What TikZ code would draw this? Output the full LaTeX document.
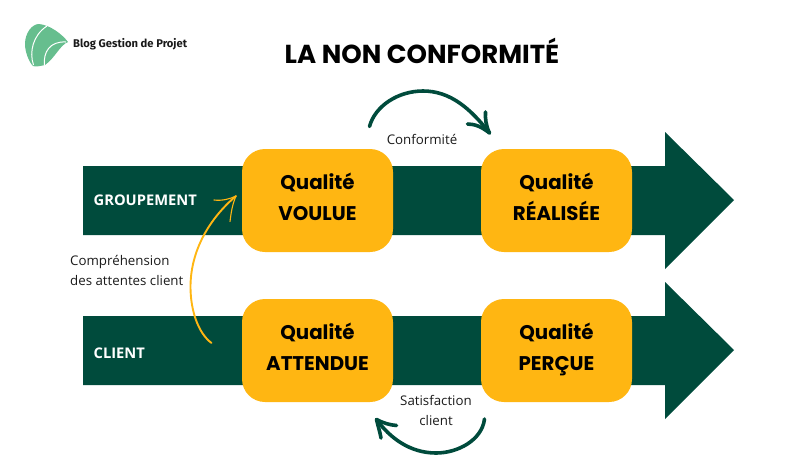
\documentclass[tikz,border=0pt]{standalone}
\usepackage{fontspec}
\setmainfont{Open Sans}
\newfontfamily\pop{Poppins}
\newfontfamily\logofont{Fira Sans}
\usetikzlibrary{calc}
\definecolor{dgreen}{HTML}{004B3C}
\definecolor{amber}{HTML}{FFB612}
\definecolor{lgreen}{HTML}{66BE8E}
\definecolor{ink}{HTML}{1A1A1A}
\newcommand{\qlines}[1]{Qualité\\#1\vphantom{Ç}}
\tikzset{
 x=1pt,y=-1pt,
 qbox/.style={fill=amber,draw=none,rounded corners=23pt,minimum width=151pt,minimum height=103pt,inner sep=0pt,anchor=center},
 band/.style={fill=dgreen,draw=none},
 qtext/.style={font=\pop\bfseries\fontsize{19.8}{31}\selectfont,text=black,align=center,inner sep=0pt},
 small/.style={font=\fontsize{13.3}{20}\selectfont,text=ink,align=center,inner sep=0pt},
 lab/.style={font=\bfseries\fontsize{14.7}{17}\selectfont,text=white,anchor=west,inner sep=0pt},
 swoop/.style={draw=dgreen,line width=3.6pt,line cap=round,line join=round},
 thinarrow/.style={draw=amber,line width=1.9pt,line cap=round,line join=round},
}
\begin{document}
\begin{tikzpicture}
\useasboundingbox (0,0) rectangle (811,456);
% bands
\fill[band] (83,166)--(665,166)--(665,132)--(734,200)--(665,269)--(665,235)--(83,235)--cycle;
\fill[band] (83,316)--(665,316)--(665,282)--(734,350)--(665,419)--(665,385)--(83,385)--cycle;
% boxes
\node[qbox] (qv) at (317.5,200.5) {};
\node[qbox] (qr) at (556.5,200.5) {};
\node[qbox] (qa) at (317.5,350.5) {};
\node[qbox] (qp) at (556.5,350.5) {};
\node[qtext] (tv) at ($(qv)+(0,-1)$) {\qlines{VOULUE}};
\node[qtext] (tr) at ($(qr)+(0,-1)$) {\qlines{RÉALISÉE}};
\node[qtext] (ta) at ($(qa)+(0,-1)$) {\qlines{ATTENDUE}};
\node[qtext] (tp) at ($(qp)+(0,-1)$) {\qlines{PERÇUE}};
\node[lab] (lg) at (93.5,200) {GROUPEMENT};
\node[lab] (lc) at (93.5,353) {CLIENT};
% title
\node[font=\pop\bfseries\fontsize{26}{32}\selectfont,text=black,inner sep=0pt] (title) at (422,51) {LA NON CONFORMITÉ};
% labels
\node[small] (conf) at (422,139.5) {Conformité};
\node[small] (sat) at (436,410.5) {Satisfaction\\client};
\node[small,align=left,anchor=west] (comp) at (70,270.5) {Compréhension\\des attentes client};
% top swoop
\coordinate (c1s) at (369.5,126.5);
\coordinate (c1e) at (489.5,133);
\draw[swoop] (c1s) .. controls (375,106) and (398,91) .. (423,91) .. controls (450,91) and (470,108) .. (c1e);
\draw[swoop] (467.5,124) .. controls (475,124) and (482,127) .. (c1e) .. controls (486,126) and (485,118) .. (485.5,112);
% bottom swoop
\coordinate (c2s) at (484.5,419);
\coordinate (c2e) at (376.5,419.5);
\draw[swoop] (c2s) .. controls (482,440) and (458,453) .. (436,453) .. controls (410,453) and (390,438) .. (c2e);
\draw[swoop] (396.5,425.5) .. controls (390,425) and (383,423) .. (c2e) .. controls (378,426) and (380,432) .. (381,438);
% yellow arrow
\coordinate (c3s) at (211.5,343);
\coordinate (c3e) at (236,196);
\draw[thinarrow] (c3s) .. controls (198,333) and (190.5,310) .. (190.5,287) .. controls (190.5,250) and (210,218) .. (c3e);
\draw[thinarrow,line width=1.1pt] (214,200) .. controls (222,201) and (230,199) .. (c3e) .. controls (232,205) and (231,214) .. (230,221.5);
% logo
\fill[lgreen] (25,44) .. controls (25,33) and (32,24) .. (39,24) .. controls (50,25) and (62,34) .. (68,42) .. controls (60,45) and (55,58) .. (45,65) .. controls (40,66) and (36,67) .. (33,66) .. controls (29,62) and (25,52) .. (25,44) -- cycle;
\draw[white,line width=1pt] (33.5,65) .. controls (29,52) and (33,35) .. (47,26);
\draw[white,line width=1pt] (44.5,65.5) .. controls (43,52) and (50,41) .. (66,42);
\node[font=\logofont\bfseries\fontsize{11.2}{14}\selectfont,text=ink,anchor=west,inner sep=0pt] (logo) at (73,44) {Blog Gestion de Projet};
\end{tikzpicture}
\end{document}
